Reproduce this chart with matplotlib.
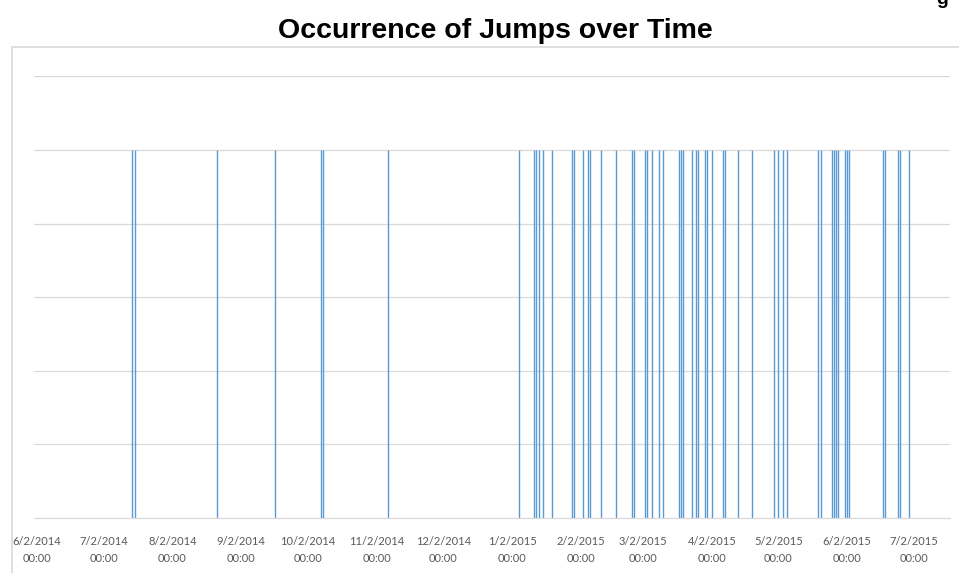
import matplotlib
matplotlib.use("Agg")
import matplotlib.pyplot as plt
from matplotlib.patches import Rectangle
import pandas as pd

# dates on which a jump occurred
jump_dates = [
    "2014-07-15", "2014-07-16", "2014-08-22", "2014-09-17", "2014-10-08",
    "2014-10-09", "2014-11-07",
    "2015-01-05", "2015-01-12", "2015-01-13", "2015-01-14", "2015-01-16",
    "2015-01-20", "2015-01-29", "2015-01-30", "2015-02-03", "2015-02-05",
    "2015-02-06", "2015-02-11", "2015-02-18", "2015-02-25", "2015-02-26",
    "2015-03-03", "2015-03-04", "2015-03-06", "2015-03-09", "2015-03-11",
    "2015-03-18", "2015-03-19", "2015-03-20", "2015-03-24", "2015-03-26",
    "2015-03-27", "2015-03-30", "2015-03-31", "2015-04-02", "2015-04-07",
    "2015-04-08", "2015-04-14", "2015-04-20", "2015-04-30", "2015-05-02",
    "2015-05-04", "2015-05-06", "2015-05-20", "2015-05-21", "2015-05-26",
    "2015-05-27", "2015-05-28", "2015-05-29", "2015-06-01", "2015-06-02",
    "2015-06-03", "2015-06-18", "2015-06-19", "2015-06-25", "2015-06-26",
    "2015-06-30",
]
jump_values = [1] * len(jump_dates)

tick_dates = [
    "2014-06-02", "2014-07-02", "2014-08-02", "2014-09-02", "2014-10-02",
    "2014-11-02", "2014-12-02", "2015-01-02", "2015-02-02", "2015-03-02",
    "2015-04-02", "2015-05-02", "2015-06-02", "2015-07-02",
]
tick_labels = [pd.Timestamp(d).strftime("%-m/%-d/%Y") + "\n00:00" for d in tick_dates]

x = pd.to_datetime(jump_dates)
ticks = pd.to_datetime(tick_dates)

W, H = 959, 573
fig = plt.figure(figsize=(W / 100, H / 100), dpi=100)

# chart border (cropped at right and bottom)
fig.patches.append(Rectangle((12 / W, -0.1), 1.2, 1 - 47 / H + 0.1,
                             transform=fig.transFigure, fill=False,
                             edgecolor="#D9D9D9", lw=1.2))

ax = fig.add_axes([34 / W, 1 - 518 / H, (950 - 34) / W, (518 - 76.4) / H])
ax.vlines(x, 0, jump_values, color="#5B9BD5", lw=1.0)

ax.set_ylim(0, 1.2)
ax.set_yticks([0.2, 0.4, 0.6, 0.8, 1.0, 1.2])
ax.yaxis.grid(True, color="#D9D9D9", lw=0.9)
ax.set_axisbelow(True)
ax.tick_params(axis="y", left=False, labelleft=False)

ax.set_xlim(pd.Timestamp("2014-06-02") - pd.Timedelta(days=1.35),
            pd.Timestamp("2014-06-02") + pd.Timedelta(days=411.3))
ax.set_xticks(ticks)
ax.set_xticklabels(tick_labels, fontsize=8, color="#595959", family="Lato",
                   linespacing=1.7)
ax.tick_params(axis="x", length=0, pad=13)

for s in ["top", "left", "right"]:
    ax.spines[s].set_visible(False)
ax.spines["bottom"].set_color("#D9D9D9")
ax.spines["bottom"].set_linewidth(0.9)

fig.text(495 / W, 1 - 31 / H, "Occurrence of Jumps over Time", ha="center",
         va="center", fontsize=20.5, fontweight="bold", family="Liberation Sans")
# fragment of a text cut off at the top edge
fig.text(942 / W, 1 + 1 / H, "g", ha="center", va="center", fontsize=14,
         fontweight="bold", family="Liberation Sans")

fig.savefig("out.png", dpi=100)
